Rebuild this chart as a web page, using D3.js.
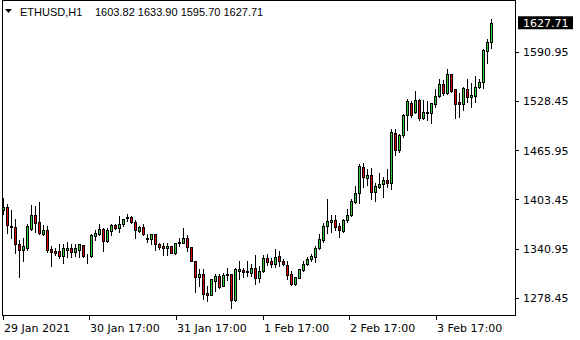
<!DOCTYPE html>
<html lang="en">
<head>
<meta charset="UTF-8">
<title>ETHUSD,H1</title>
<script src="https://d3js.org/d3.v7.min.js"></script>
<style>
  body { margin: 0; background: #fff; }
  text { font-family: "DejaVu Sans", sans-serif; font-size: 11px; fill: #000; }
  .hdr { font-family: "Liberation Sans", Arial, sans-serif; font-size: 11px; }
  .wick { stroke: #000; stroke-width: 1; }
  .body { stroke: #000; stroke-width: 1; }
</style>
</head>
<body>
<script>
// candle data, one entry per H1 bar (open, high, low, close)
const opens = [1389.8,1394.0,1369.5,1368.6,1346.2,1339.0,1341.2,1366.1,1383.1,1374.2,
  1359.7,1364.4,1339.9,1337.8,1337.8,1331.0,1339.4,1341.2,1336.9,1339.4,
  1345.4,1332.3,1331.8,1357.2,1359.7,1365.7,1350.8,1363.5,1370.8,1366.6,
  1371.7,1379.3,1380.6,1374.2,1363.5,1368.2,1353.9,1352.6,1358.8,1346.6,
  1344.1,1341.2,1344.1,1334.8,1347.5,1348.3,1353.9,1343.2,1325.4,1305.1,
  1308.5,1284.4,1282.2,1300.0,1306.0,1293.3,1306.9,1308.9,1275.9,1312.7,
  1313.6,1312.3,1310.2,1315.8,1303.9,1312.0,1328.5,1325.1,1320.9,1331.4,
  1325.4,1320.0,1308.5,1295.5,1303.9,1313.6,1321.2,1328.0,1330.5,1342.2,
  1351.7,1368.9,1375.0,1377.1,1369.5,1363.5,1377.1,1383.5,1400.4,1411.1,
  1444.1,1430.9,1434.3,1413.1,1419.4,1422.9,1427.9,1423.8,1488.3,1466.7,
  1485.1,1510.5,1526.1,1514.7,1529.6,1506.3,1513.4,1513.4,1524.1,1534.7,
  1549.9,1538.1,1562.6,1543.2,1527.4,1524.5,1543.2,1533.0,1534.7,1545.7,
  1552.8,1592.2,1603.82];
const highs = [1405.9,1398.3,1391.1,1379.3,1352.6,1355.9,1373.0,1397.5,1395.8,1401.3,
  1371.7,1370.8,1345.4,1343.2,1347.5,1347.5,1350.8,1347.5,1347.5,1348.3,
  1346.6,1335.6,1360.2,1365.3,1373.0,1368.6,1368.6,1373.7,1373.7,1383.5,
  1379.3,1385.6,1383.5,1378.0,1370.8,1373.7,1360.2,1360.2,1360.1,1349.6,
  1349.6,1349.6,1345.4,1349.6,1355.9,1368.6,1359.4,1344.1,1326.3,1315.8,
  1315.8,1294.6,1303.1,1309.4,1309.4,1311.5,1317.8,1310.2,1317.8,1326.3,
  1317.8,1326.3,1322.1,1334.0,1320.0,1334.0,1334.8,1330.5,1341.2,1339.0,
  1328.5,1326.3,1313.6,1306.0,1315.8,1326.3,1331.4,1334.8,1345.4,1360.2,
  1375.0,1405.1,1384.8,1384.8,1375.0,1379.3,1392.0,1404.7,1421.6,1449.2,
  1451.2,1442.8,1444.8,1425.8,1438.5,1433.0,1442.8,1493.6,1494.0,1488.0,
  1512.7,1531.7,1529.6,1542.3,1531.7,1530.5,1529.6,1527.4,1544.4,1557.1,
  1555.9,1569.8,1563.5,1544.4,1540.1,1547.4,1557.1,1552.8,1561.3,1557.1,
  1595.2,1608.0,1633.90];
const lows = [1384.7,1360.2,1353.9,1334.8,1304.3,1325.4,1339.0,1364.4,1362.3,1359.4,
  1358.1,1336.9,1319.1,1332.7,1328.5,1322.1,1329.8,1330.5,1331.4,1330.5,
  1330.5,1322.9,1330.5,1351.7,1358.1,1337.8,1349.6,1358.1,1365.3,1362.3,
  1369.5,1376.4,1373.0,1353.9,1362.3,1358.1,1349.6,1346.6,1339.0,1340.3,
  1332.7,1332.7,1334.8,1334.0,1344.5,1347.5,1338.1,1325.1,1286.1,1293.3,
  1276.8,1274.6,1281.9,1287.3,1291.1,1292.7,1300.9,1265.0,1274.6,1302.2,
  1305.1,1306.0,1306.0,1295.5,1298.8,1311.1,1320.0,1317.8,1317.8,1318.7,
  1320.0,1302.2,1294.6,1294.6,1303.1,1312.7,1320.0,1325.1,1324.2,1339.9,
  1349.6,1360.2,1362.3,1364.4,1355.2,1362.3,1375.0,1382.6,1398.3,1399.1,
  1419.4,1421.6,1403.4,1401.6,1417.4,1406.7,1418.7,1416.5,1459.7,1463.9,
  1482.2,1491.5,1508.4,1513.4,1504.2,1505.0,1504.2,1500.7,1521.1,1533.0,
  1535.9,1536.8,1540.1,1506.3,1508.4,1516.9,1527.4,1521.1,1527.4,1544.4,
  1544.4,1576.2,1595.70];
const closes = [1393.2,1370.4,1367.8,1346.2,1339.0,1344.1,1369.5,1383.1,1373.7,1360.2,
  1364.0,1339.0,1336.1,1335.6,1331.0,1341.2,1341.2,1336.9,1341.2,1346.2,
  1331.8,1333.1,1358.1,1361.0,1365.7,1350.5,1364.4,1370.8,1366.6,1372.0,
  1378.0,1380.6,1374.2,1364.0,1368.6,1359.7,1352.6,1358.8,1346.2,1343.2,
  1341.2,1344.1,1334.8,1348.3,1349.6,1353.9,1343.2,1325.4,1305.1,1308.5,
  1283.1,1282.2,1302.2,1306.0,1292.4,1306.9,1308.5,1275.9,1314.5,1314.5,
  1311.5,1310.7,1315.8,1303.9,1312.3,1328.5,1324.2,1320.9,1329.8,1324.7,
  1320.9,1307.3,1295.5,1304.3,1314.5,1321.2,1327.2,1331.0,1341.2,1352.6,
  1369.5,1375.9,1376.8,1368.6,1364.4,1377.1,1383.5,1401.6,1411.1,1445.7,
  1431.4,1434.3,1413.1,1420.3,1422.9,1427.9,1423.8,1488.9,1466.7,1485.1,
  1510.5,1528.7,1510.5,1529.6,1506.3,1514.7,1514.7,1525.4,1534.7,1549.9,
  1538.1,1562.6,1541.4,1524.5,1524.5,1544.4,1533.0,1535.9,1545.7,1552.8,
  1593.1,1603.6,1627.71];

const symbol = "ETHUSD,H1";
const priceTicks = [1590.95, 1528.45, 1465.95, 1403.45, 1340.95, 1278.45];
const timeTickIdx = [0, 21.5, 43.25, 65, 86.5, 108.25];
const timeTickLabels = ["29 Jan 2021", "30 Jan 17:00", "31 Jan 17:00", "1 Feb 17:00", "2 Feb 17:00", "3 Feb 17:00"];

const W = 580, H = 340;
const frame = {left: 2, right: 515.5, top: 0.5, bottom: 315.5};
const bullColor = "#32cd32", bearColor = "#e00000";

const candles = opens.map((o, i) => ({i, o, h: highs[i], l: lows[i], c: closes[i]}));

const svg = d3.select("body").append("svg")
  .attr("width", W).attr("height", H);

svg.append("rect").attr("width", W).attr("height", H).attr("fill", "#fff");

const x = d3.scaleLinear().domain([0, candles.length - 1]).range([3.5, 3.5 + 4 * (candles.length - 1)]);
const y = d3.scaleLinear().domain([1278.45, 1590.95]).range([297.7, 51.7]);
const py = v => Math.round(y(v)) + 0.5;

// frame
svg.append("rect")
  .attr("x", frame.left + 0.5).attr("y", frame.top)
  .attr("width", frame.right - frame.left - 0.5)
  .attr("height", frame.bottom - frame.top)
  .attr("fill", "none").attr("stroke", "#000")
  .attr("shape-rendering", "crispEdges");

// candles
const g = svg.append("g").attr("shape-rendering", "crispEdges");
g.selectAll("line.wick").data(candles).join("line")
  .attr("class", "wick")
  .attr("x1", d => x(d.i)).attr("x2", d => x(d.i))
  .attr("y1", d => py(d.h)).attr("y2", d => py(d.l));

g.selectAll("rect.body").data(candles).join("rect")
  .attr("class", "body")
  .attr("x", d => x(d.i) - 1)
  .attr("width", 2)
  .attr("y", d => py(Math.max(d.o, d.c)))
  .attr("height", d => Math.max(0, py(Math.min(d.o, d.c)) - py(Math.max(d.o, d.c))))
  .attr("fill", d => d.c >= d.o ? bullColor : bearColor);

// price axis
const yAxis = svg.append("g");
yAxis.selectAll("line").data(priceTicks).join("line")
  .attr("x1", frame.right).attr("x2", frame.right + 3)
  .attr("y1", d => py(d)).attr("y2", d => py(d))
  .attr("stroke", "#000").attr("shape-rendering", "crispEdges");
yAxis.selectAll("text").data(priceTicks).join("text")
  .attr("x", 523).attr("y", d => y(d) + 4.5)
  .text(d => d.toFixed(2));

// current price tag
const last = candles[candles.length - 1];
svg.append("rect")
  .attr("x", 518).attr("y", y(last.c) - 6.5)
  .attr("width", 55).attr("height", 13)
  .attr("fill", "#000");
svg.append("text")
  .attr("x", 523).attr("y", y(last.c) + 4)
  .style("fill", "#fff")
  .text(last.c.toFixed(2));

// time axis
const xAxis = svg.append("g");
xAxis.selectAll("line").data(timeTickIdx).join("line")
  .attr("x1", d => Math.round(x(d)) - 0.5).attr("x2", d => Math.round(x(d)) - 0.5)
  .attr("y1", frame.bottom).attr("y2", frame.bottom + 4)
  .attr("stroke", "#000").attr("shape-rendering", "crispEdges");
xAxis.selectAll("text").data(timeTickIdx).join("text")
  .attr("x", d => Math.round(x(d)))
  .attr("y", 332)
  .text((d, k) => timeTickLabels[k]);

// header: symbol, then O H L C of the last bar
svg.append("path")
  .attr("d", "M5,9L12,9L8.5,13Z")
  .attr("fill", "#000");
svg.append("text").attr("class", "hdr").attr("x", 20).attr("y", 16).text(symbol);
svg.append("text").attr("class", "hdr").attr("x", 95).attr("y", 16)
  .text([last.o, last.h, last.l, last.c].map(v => v.toFixed(2)).join(" "));
</script>
</body>
</html>
